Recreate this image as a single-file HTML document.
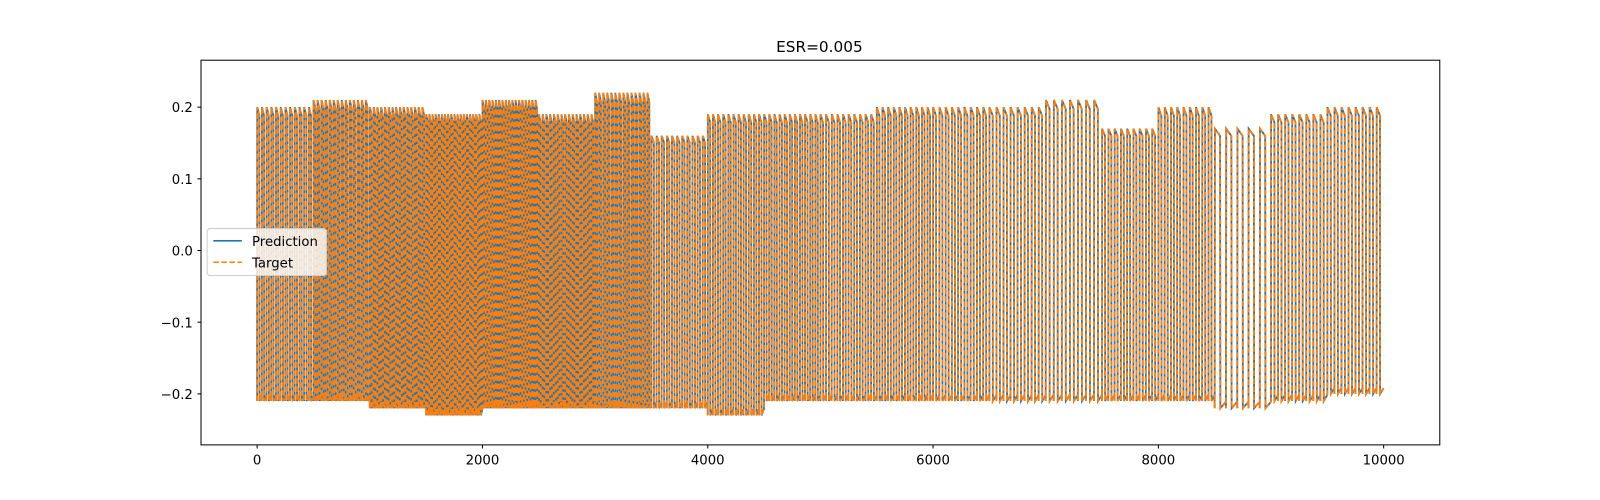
<!DOCTYPE html>
<html><head><meta charset="utf-8"><style>
html,body{margin:0;padding:0;overflow:hidden;background:#fff;width:1600px;height:500px}
svg{display:block}
svg text{font-family:"DejaVu Sans","Liberation Sans",sans-serif;font-size:13px;fill:#000}
</style></head><body>
<svg id="chart" width="1600" height="500" viewBox="0 0 1600 500" xmlns="http://www.w3.org/2000/svg">
<rect width="1600" height="500" fill="#fff"/>
<g transform="scale(1.0204)">
<text x="803" y="51" text-anchor="middle" style="font-size:15px">ESR=0.005</text>
<defs><clipPath id="clip"><rect x="197" y="59" width="1214" height="377"/></clipPath></defs>
<g id="series" clip-path="url(#clip)"></g>
<rect x="197" y="59" width="1214" height="377" fill="none" stroke="#000" stroke-width="1"/>
<g id="axes"></g>
<g>
<rect x="203" y="224" width="117" height="46" rx="3" fill="#fff" fill-opacity="0.8" stroke="#ccc"/>
<line x1="209" y1="236" x2="237" y2="236" stroke="#1f77b4" stroke-width="1.5"/>
<text x="247" y="241">Prediction</text>
<line x1="209" y1="257" x2="237" y2="257" stroke="#ff7f0e" stroke-width="1.5" stroke-dasharray="5.5,2.4"/>
<text x="247" y="262">Target</text>
</g>
</g>
</svg>
<script>
const segStart=[0,500,1000,1500,2000,2500,3000,3500,4000,4500,5000,5500,6000,6500,7000,7500,8000,8500,9000,9500];
const segCycles=[12,14,15,18,17,15,14,11,11,11,10,10,9,8,7,9,9,5,8,8];
const segHigh=[0.20,0.21,0.20,0.19,0.21,0.19,0.22,0.16,0.19,0.19,0.19,0.20,0.20,0.20,0.21,0.17,0.20,0.17,0.19,0.20];
const segLow=[-0.21,-0.21,-0.22,-0.23,-0.22,-0.22,-0.22,-0.22,-0.23,-0.21,-0.21,-0.21,-0.21,-0.21,-0.21,-0.21,-0.21,-0.22,-0.21,-0.20];
const xTicks=[0,2000,4000,6000,8000,10000];
const yTicks=[-0.2,-0.1,0.0,0.1,0.2];
const xEnd=10000;
const X=v=>252+v*0.1104;
const Y=v=>245.5-v*702.5;
const ns="http://www.w3.org/2000/svg";
let pts=[];
for(let i=0;i<segStart.length;i++){
  const s=segStart[i], e=(i+1<segStart.length?segStart[i+1]:xEnd), p=(e-s)/segCycles[i];
  for(let c=0;c<segCycles[i];c++){
    const t=s+c*p;
    pts.push([t,segLow[i]],[t+0.02*p,segHigh[i]],[t+0.48*p,segHigh[i]*0.94],[t+0.5*p,segLow[i]],[t+0.98*p,segLow[i]*0.96]);
  }
}
const d=pts.map((q,k)=>(k?'L':'M')+X(q[0]).toFixed(1)+','+Y(q[1]).toFixed(1)).join('');
const g=document.getElementById('series');
const p1=document.createElementNS(ns,'path');


p1.setAttribute('d',d);p1.setAttribute('fill','none');p1.setAttribute('stroke','#1f77b4');p1.setAttribute('stroke-width','1.8');
g.appendChild(p1);
const p2=document.createElementNS(ns,'path');


p2.setAttribute('d',d);p2.setAttribute('fill','none');p2.setAttribute('stroke','#ff7f0e');p2.setAttribute('stroke-width','1.8');p2.setAttribute('stroke-dasharray','5.5,2.4');
g.appendChild(p2);
const ax=document.getElementById('axes');
xTicks.forEach(v=>{
  const l=document.createElementNS(ns,'line');
  
  
  l.setAttribute('x1',X(v));l.setAttribute('x2',X(v));l.setAttribute('y1',436);l.setAttribute('y2',439.5);l.setAttribute('stroke','#000');
  ax.appendChild(l);
  const t=document.createElementNS(ns,'text');
  
  
  t.setAttribute('x',X(v));t.setAttribute('y',455);t.setAttribute('text-anchor','middle');t.textContent=v;
  ax.appendChild(t);
});
yTicks.forEach(v=>{
  const l=document.createElementNS(ns,'line');
  
  
  l.setAttribute('x1',193.5);l.setAttribute('x2',197);l.setAttribute('y1',Y(v));l.setAttribute('y2',Y(v));l.setAttribute('stroke','#000');
  ax.appendChild(l);
  const t=document.createElementNS(ns,'text');
  
  
  t.setAttribute('x',189);t.setAttribute('y',Y(v)+5);t.setAttribute('text-anchor','end');t.textContent=(v<0?'\u2212':'')+Math.abs(v).toFixed(1);
  ax.appendChild(t);
});
</script>
</body></html>
